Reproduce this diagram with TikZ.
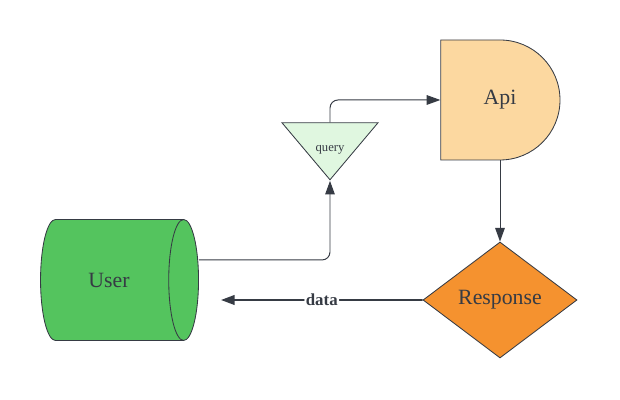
\documentclass[tikz,border=0pt]{standalone}
\usepackage{fontspec}
\setmainfont{Liberation Serif}
\usepackage{tikz}
\usetikzlibrary{arrows.meta,positioning,calc,shapes.geometric,shapes.misc}
\definecolor{usergreen}{HTML}{54C45E}
\definecolor{querygreen}{HTML}{E0F7E0}
\definecolor{apiorange}{HTML}{FCD8A0}
\definecolor{resporange}{HTML}{F5922F}
\definecolor{inkgray}{HTML}{363B44}

\begin{document}
\begin{tikzpicture}
[shorten >=0pt, text=inkgray,
flow/.style={draw=inkgray, line width=0.7pt, rounded corners=0.2cm,
  -{Triangle[length=0.34cm,width=0.24cm]}},
big/.style={font=\fontsize{15.5}{18}\selectfont},
box/.style={draw=inkgray, line width=0.6pt}]
\useasboundingbox (0,0) rectangle (15.5,10);

\node (user) at (2.725,3.0)[cylinder, box, fill=usergreen, big,
  minimum height=3.95cm, minimum width=3.025cm, shape aspect=1.25] {User};
\node (query) at (8.25,6.54)[isosceles triangle, box, fill=querygreen,
  isosceles triangle stretches, shape border rotate=270, inner sep=0pt,
  minimum width=2.4cm, minimum height=1.425cm,
  font=\fontsize{9}{11}\selectfont] {\raisebox{-9pt}[0pt][0pt]{query}};
\node (api) at (12.5,7.5)[rounded rectangle, rounded rectangle left arc=none,
  box, fill=apiorange, big, minimum width=3cm, minimum height=3cm] {Api};
\node (resp) at (12.5,2.5)[diamond, box, fill=resporange, big,
  minimum width=3.85cm, minimum height=2.9cm, inner sep=0pt] {Response};
\coordinate (back) at ($(user.east)+(0.55,-0.5)$);

\draw[flow] ($(user.east)+(0,0.5)$) -| (query.apex);
\draw[flow] (query.lower side) |- (api.west);
\draw[flow] (api.south) -- (resp.north);
\draw[flow, line width=1.4pt] (resp.west) -- node[fill=white, inner sep=1pt,
  font=\fontsize{12}{14}\selectfont\bfseries] {data} (back);

\end{tikzpicture}
\end{document}
